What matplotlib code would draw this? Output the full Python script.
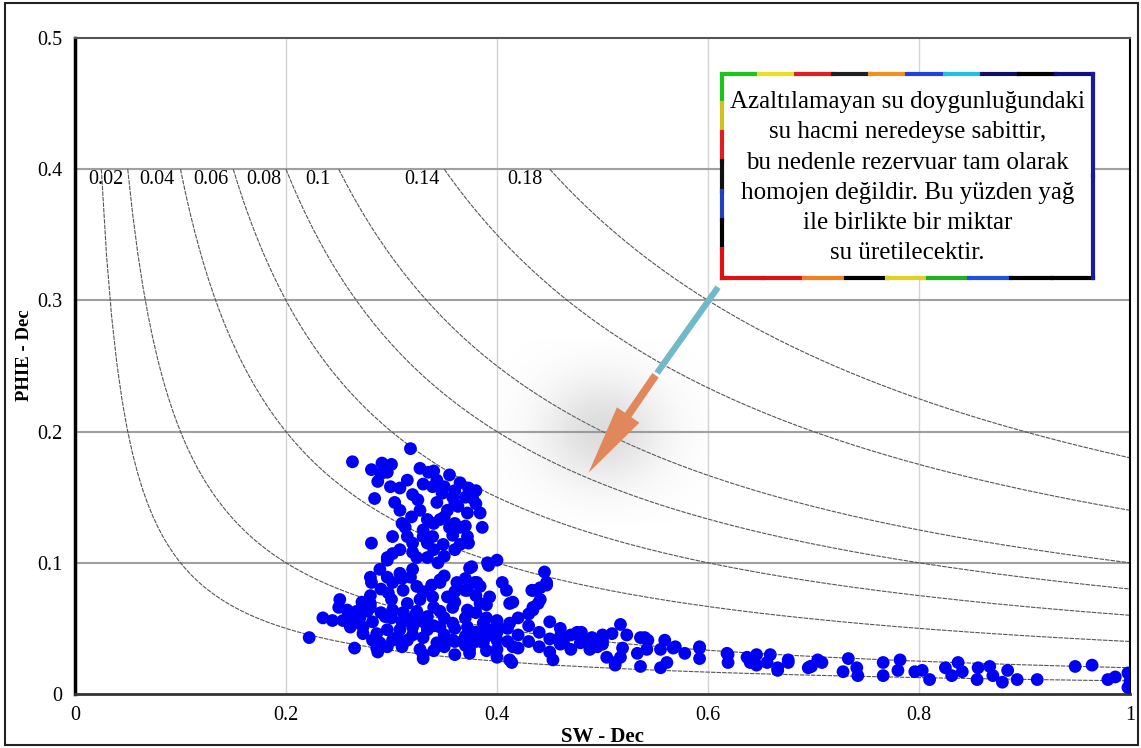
import numpy as np
import matplotlib
matplotlib.use('Agg')
import matplotlib.pyplot as plt
from matplotlib.patches import Rectangle, FancyArrowPatch

plt.rcParams['font.family'] = ['Liberation Serif', 'DejaVu Serif']

# data (SW, PHIE pairs)
pts = [
    # upper cluster
    (0.318, 0.187), (0.263, 0.177), (0.281, 0.171), (0.291, 0.176), (0.296, 0.169),
    (0.287, 0.162), (0.299, 0.158), (0.308, 0.157), (0.315, 0.163), (0.284, 0.149),
    (0.327, 0.172), (0.335, 0.169), (0.343, 0.163), (0.355, 0.167), (0.365, 0.161),
    (0.373, 0.157), (0.339, 0.158), (0.348, 0.153), (0.358, 0.150), (0.377, 0.149),
    (0.325, 0.148), (0.303, 0.146), (0.308, 0.140), (0.327, 0.140), (0.343, 0.146),
    (0.353, 0.140), (0.363, 0.143), (0.372, 0.138), (0.384, 0.138), (0.319, 0.135),
    (0.334, 0.133), (0.346, 0.133), (0.313, 0.127), (0.330, 0.125), (0.355, 0.127),
    (0.365, 0.127), (0.386, 0.127), (0.301, 0.120), (0.281, 0.115), (0.315, 0.120),
    (0.339, 0.120), (0.358, 0.121), (0.372, 0.120), (0.320, 0.115), (0.334, 0.115),
    (0.349, 0.114), (0.365, 0.114), (0.373, 0.115), (0.308, 0.110), (0.296, 0.104),
    (0.324, 0.104), (0.334, 0.104), (0.344, 0.100), (0.301, 0.107), (0.391, 0.100),
    (0.400, 0.102), (0.376, 0.097),
    (0.33, 0.160), (0.35, 0.158), (0.36, 0.145), (0.37, 0.150), (0.34, 0.130),
    (0.35, 0.135), (0.36, 0.130), (0.37, 0.128), (0.38, 0.145), (0.32, 0.152),
    (0.31, 0.130), (0.33, 0.120), (0.34, 0.110), (0.35, 0.105), (0.36, 0.110),
    (0.29, 0.168), (0.30, 0.175), (0.34, 0.170), (0.36, 0.155), (0.38, 0.155),
    (0.32, 0.108),
    # middle band
    (0.280, 0.089), (0.289, 0.095), (0.281, 0.085), (0.296, 0.089), (0.301, 0.085),
    (0.308, 0.092), (0.318, 0.089), (0.324, 0.082), (0.311, 0.079), (0.297, 0.077),
    (0.338, 0.083), (0.346, 0.085), (0.362, 0.085), (0.370, 0.079), (0.381, 0.085),
    (0.405, 0.085), (0.409, 0.079), (0.339, 0.074), (0.353, 0.074), (0.327, 0.072),
    (0.315, 0.069), (0.251, 0.072), (0.272, 0.070), (0.280, 0.069), (0.258, 0.064),
    (0.267, 0.063), (0.277, 0.063), (0.235, 0.058), (0.244, 0.056), (0.254, 0.056),
    (0.264, 0.054), (0.273, 0.051), (0.282, 0.055), (0.294, 0.059), (0.301, 0.064),
    (0.311, 0.062), (0.324, 0.063), (0.334, 0.059), (0.346, 0.063), (0.358, 0.066),
    (0.372, 0.064), (0.384, 0.069), (0.393, 0.074), (0.412, 0.069), (0.286, 0.046),
    (0.296, 0.049), (0.308, 0.049), (0.320, 0.051), (0.334, 0.049), (0.346, 0.051),
    (0.358, 0.054), (0.372, 0.051), (0.387, 0.054), (0.400, 0.056), (0.412, 0.054),
    (0.222, 0.043), (0.265, 0.035), (0.289, 0.039), (0.287, 0.032), (0.301, 0.041),
    (0.315, 0.041), (0.327, 0.034), (0.330, 0.027), (0.343, 0.039), (0.358, 0.041),
    (0.374, 0.034), (0.387, 0.039), (0.400, 0.041), (0.412, 0.026), (0.415, 0.036),
    (0.296, 0.102), (0.286, 0.035), (0.296, 0.036), (0.261, 0.051), (0.273, 0.046),
    (0.282, 0.041), (0.305, 0.043),
    (0.392, 0.098), (0.445, 0.093), (0.447, 0.085), (0.434, 0.079), (0.441, 0.081),
    (0.439, 0.069), (0.434, 0.064), (0.374, 0.096), (0.346, 0.087), (0.379, 0.085),
    (0.384, 0.082), (0.372, 0.079), (0.415, 0.070), (0.453, 0.026), (0.414, 0.024),
    (0.374, 0.031),
    (0.31, 0.055), (0.32, 0.058), (0.33, 0.055), (0.34, 0.052), (0.35, 0.058),
    (0.36, 0.050), (0.37, 0.058), (0.38, 0.047), (0.39, 0.050), (0.32, 0.045),
    (0.33, 0.043), (0.35, 0.045), (0.36, 0.040), (0.37, 0.044), (0.38, 0.040),
    (0.39, 0.044), (0.40, 0.052), (0.34, 0.066), (0.36, 0.070), (0.38, 0.062),
    (0.39, 0.058), (0.31, 0.036), (0.34, 0.033), (0.35, 0.036), (0.37, 0.037),
    (0.39, 0.033), (0.40, 0.028), (0.36, 0.030), (0.33, 0.030), (0.30, 0.058),
    (0.29, 0.062), (0.28, 0.066), (0.27, 0.058), (0.26, 0.060), (0.25, 0.066),
    (0.30, 0.072), (0.29, 0.080), (0.31, 0.088), (0.32, 0.095), (0.33, 0.078),
    (0.35, 0.090), (0.36, 0.078), (0.37, 0.088), (0.38, 0.075), (0.39, 0.068),
    (0.28, 0.075),
    # dense band 0.4 - 0.5
    (0.42, 0.058), (0.43, 0.052), (0.44, 0.047), (0.45, 0.055), (0.46, 0.050),
    (0.47, 0.045), (0.42, 0.045), (0.43, 0.040), (0.44, 0.036), (0.45, 0.042),
    (0.46, 0.038), (0.47, 0.034), (0.41, 0.050), (0.42, 0.035), (0.43, 0.061),
    (0.45, 0.032), (0.46, 0.044), (0.48, 0.040), (0.48, 0.047), (0.49, 0.036),
    (0.49, 0.043), (0.50, 0.038), (0.50, 0.045), (0.40, 0.047), (0.41, 0.040),
    (0.40, 0.034),
    # tail 0.45 - 0.7
    (0.433, 0.079), (0.447, 0.083), (0.434, 0.066), (0.441, 0.072), (0.517, 0.053),
    (0.523, 0.045), (0.509, 0.046), (0.476, 0.047), (0.500, 0.041), (0.536, 0.043),
    (0.543, 0.041), (0.559, 0.041), (0.542, 0.034), (0.533, 0.031), (0.555, 0.034),
    (0.567, 0.035), (0.578, 0.031), (0.592, 0.035), (0.592, 0.027), (0.619, 0.030),
    (0.619, 0.024), (0.637, 0.028), (0.646, 0.030), (0.640, 0.024), (0.659, 0.030),
    (0.656, 0.024), (0.666, 0.020), (0.676, 0.026), (0.697, 0.021), (0.704, 0.026),
    (0.512, 0.024), (0.536, 0.021), (0.555, 0.020), (0.561, 0.024), (0.479, 0.039),
    (0.488, 0.034), (0.463, 0.039), (0.495, 0.036), (0.519, 0.035), (0.517, 0.028),
    (0.504, 0.028), (0.540, 0.043), (0.569, 0.036), (0.592, 0.036), (0.618, 0.031),
    (0.646, 0.022), (0.666, 0.018), (0.676, 0.024), (0.695, 0.020), (0.512, 0.022),
    # right side 0.7 - 1
    (0.698, 0.021), (0.708, 0.024), (0.733, 0.027), (0.728, 0.017), (0.741, 0.020),
    (0.742, 0.014), (0.766, 0.024), (0.766, 0.014), (0.782, 0.026), (0.780, 0.018),
    (0.796, 0.017), (0.803, 0.018), (0.810, 0.011), (0.825, 0.020), (0.831, 0.014),
    (0.837, 0.024), (0.841, 0.017), (0.856, 0.020), (0.855, 0.011), (0.867, 0.021),
    (0.870, 0.014), (0.879, 0.009), (0.884, 0.018), (0.893, 0.011), (0.912, 0.011),
    (0.948, 0.021), (0.964, 0.022), (0.979, 0.011), (0.986, 0.013), (0.998, 0.016),
    (0.998, 0.005), (1.0, 0.010),
]
sw = [p[0] for p in pts]
phie = [p[1] for p in pts]

bvw_levels = [0.01, 0.02, 0.04, 0.06, 0.08, 0.1, 0.14, 0.18]
bvw_labels = ['0.02', '0.04', '0.06', '0.08', '0.1', '0.14', '0.18']
bvw_label_x = [0.029, 0.078, 0.129, 0.179, 0.230, 0.329, 0.426]

xticks = [0, 0.2, 0.4, 0.6, 0.8, 1]
xticklabels = ['0', '0.2', '0.4', '0.6', '0.8', '1']
yticks = [0, 0.1, 0.2, 0.3, 0.4, 0.5]
yticklabels = ['0', '0.1', '0.2', '0.3', '0.4', '0.5']

note = ("Azaltılamayan su doygunluğundaki\nsu hacmi neredeyse sabittir,\n"
        "bu nedenle rezervuar tam olarak\nhomojen değildir. Bu yüzden yağ\n"
        "ile birlikte bir miktar\nsu üretilecektir.")

fig = plt.figure(figsize=(11.41, 7.48), dpi=100)
ax = fig.add_axes([0.0657, 0.0722, 0.9247, 0.877])
ax.set_xlim(0, 1)
ax.set_ylim(0, 0.5)

# grid
for gx in [0.2, 0.4, 0.6, 0.8]:
    ax.axvline(gx, color='#d4d4d4', lw=1.0, zorder=0)
for gy in [0.1, 0.2, 0.3, 0.4]:
    ax.axhline(gy, color='#a0a0a0', lw=1.5, zorder=0)

# BVW curves
for c in bvw_levels:
    xs = np.linspace(c / 0.4, 1.0, 200)
    ax.plot(xs, c / xs, color='#555555', lw=0.8, ls=(0, (4, 1)), zorder=1)
for lab, lx in zip(bvw_labels, bvw_label_x):
    ax.text(lx, 0.392, lab, fontsize=14.5, ha='center', va='center', zorder=2)

# shadow glow behind the arrow head
gx_, gy_ = np.meshgrid(np.linspace(-1, 1, 200), np.linspace(-1, 1, 200))
glow = np.exp(-(gx_ ** 2 + gy_ ** 2) * 3.0)
rgba = np.zeros((200, 200, 4))
rgba[..., :3] = 0.55
rgba[..., 3] = glow * 0.3
ax.imshow(rgba, extent=[0.40, 0.60, 0.13, 0.27], aspect='auto', zorder=1.5,
          interpolation='bilinear')
ax.set_xlim(0, 1)
ax.set_ylim(0, 0.5)

ax.scatter(sw, phie, s=85, color='#0000f5', edgecolors='none', zorder=3)

# arrow: teal shaft then orange head
ax.plot([0.6095, 0.5517], [0.310, 0.2447], color='#6fb9c9', lw=4.5,
        solid_capstyle='butt', zorder=6)
arr = FancyArrowPatch((0.5517, 0.2447), (0.4853, 0.1669),
                      arrowstyle='simple,head_length=3.6,head_width=1.4,tail_width=0.4',
                      mutation_scale=14, color='#e0875c', lw=0, zorder=6)
ax.add_patch(arr)

# annotation box with multicolour border
bx0, by0, bx1, by1 = 0.613, 0.317, 0.965, 0.4726
ax.add_patch(Rectangle((bx0, by0), bx1 - bx0, by1 - by0, facecolor='white',
                       edgecolor='none', zorder=7))
top_cols = ['#19c619', '#e8e020', '#e02020', '#202020', '#f09020', '#2040e0',
            '#20c0e0', '#101060', '#000000', '#101080']
left_cols = ['#19c619', '#d0c020', '#e02020', '#101010', '#2040c0', '#000000', '#e01010']
bot_cols = ['#e01010', '#e01010', '#f08020', '#000000', '#e0d020', '#20b020',
            '#2050e0', '#000000', '#000000']
right_cols = ['#1a1aa0', '#1a1aa0']


def edge(p0, p1, cols):
    n = len(cols)
    for i, cc in enumerate(cols):
        t0, t1 = i / n, (i + 1) / n
        ax.plot([p0[0] + (p1[0] - p0[0]) * t0, p0[0] + (p1[0] - p0[0]) * t1],
                [p0[1] + (p1[1] - p0[1]) * t0, p0[1] + (p1[1] - p0[1]) * t1],
                color=cc, lw=3.0, solid_capstyle='projecting', zorder=8)


edge((bx0, by1), (bx1, by1), top_cols)
edge((bx0, by1), (bx0, by0), left_cols)
edge((bx0, by0), (bx1, by0), bot_cols)
edge((bx1, by0), (bx1, by1), right_cols)
ax.text((bx0 + bx1) / 2, 0.3935, note, fontsize=18, ha='center', va='center',
        linespacing=1.48, zorder=9)

# axes styling
ax.set_xticks(xticks)
ax.set_xticklabels(xticklabels, fontsize=14.5)
ax.set_yticks(yticks)
ax.set_yticklabels(yticklabels, fontsize=14.5)
ax.tick_params(length=0, pad=9)
ax.spines['left'].set_linewidth(2.5)
ax.spines['bottom'].set_linewidth(2.0)
ax.spines['bottom'].set_color('#333333')
ax.spines['top'].set_linewidth(1.5)
ax.spines['top'].set_color('#555555')
ax.spines['right'].set_linewidth(1.5)
ax.set_xlabel('SW - Dec', fontsize=15, fontweight='bold', labelpad=1)
ax.set_ylabel('PHIE - Dec', fontsize=13.5, fontweight='bold')
ax.yaxis.set_label_coords(-0.040, 0.517)

# outer frame
fig.patches.append(Rectangle((0.0045, 0.004), 0.9928, 0.992, transform=fig.transFigure,
                             fill=False, edgecolor='#222222', lw=1.5))

fig.savefig('out.png', dpi=100)
